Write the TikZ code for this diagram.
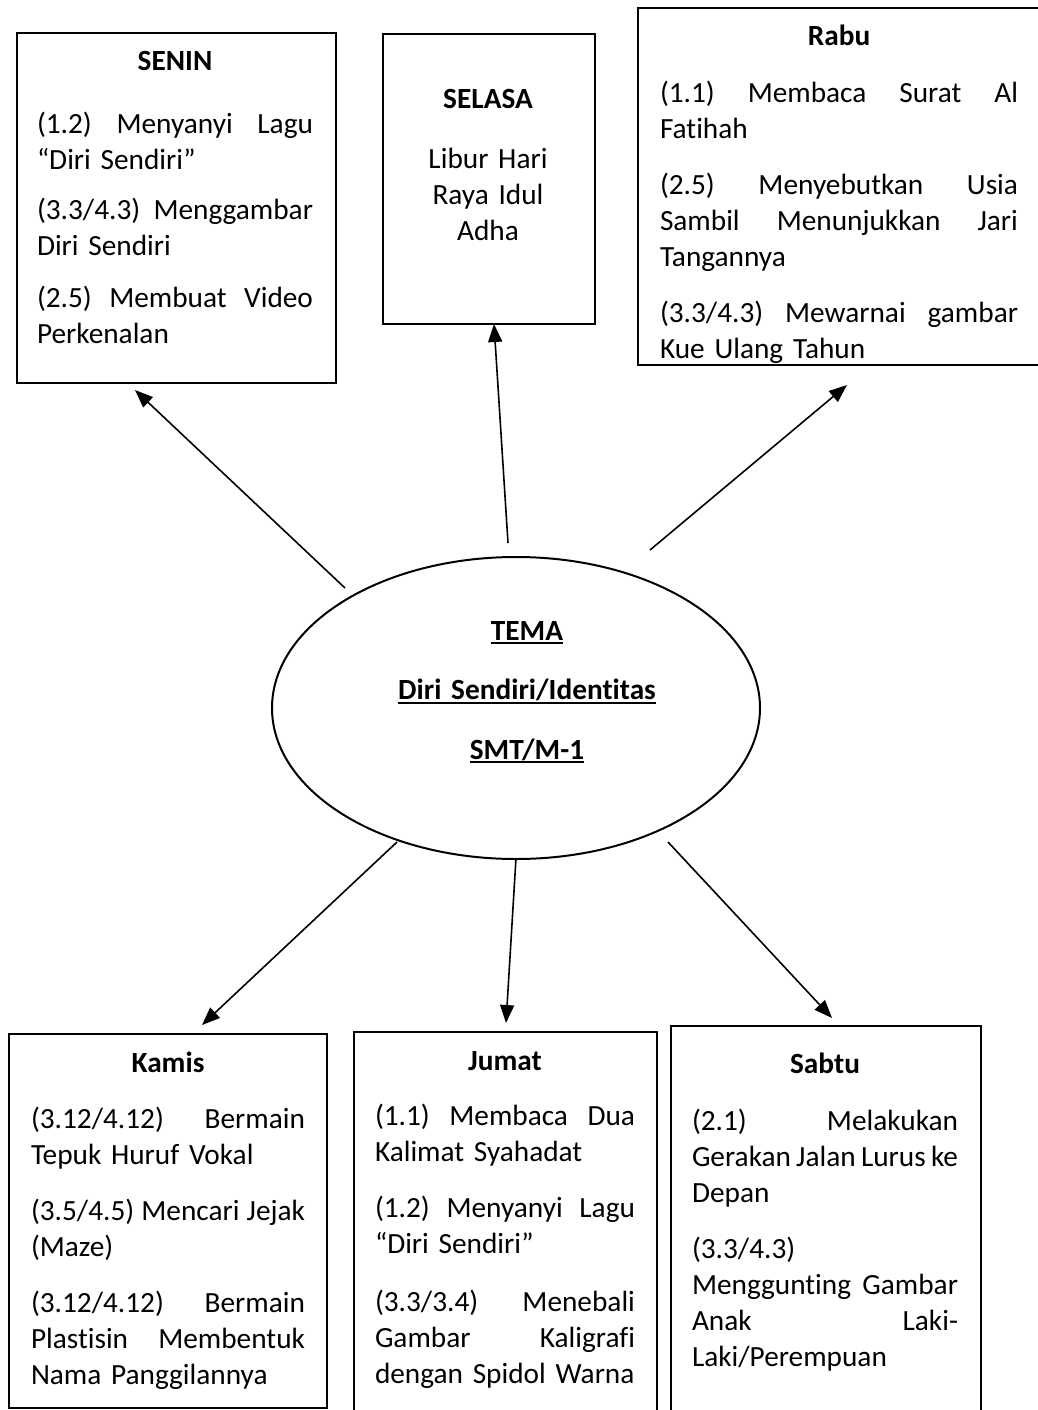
\documentclass[tikz,border=0pt]{standalone}
\usepackage{fontspec}
\setmainfont{Carlito}[Ligatures=NoCommon]
\usetikzlibrary{arrows.meta,shapes.geometric}

% line helpers for the day boxes
\newcommand\dayhead[1]{\makebox[\linewidth][c]{\rule{0pt}{29pt}\bfseries #1}\par}
\newcommand\justline[1]{\hbox to \linewidth{#1}}
\newcommand\plainline[1]{\hbox to \linewidth{#1\hfil}}
\newcommand\centline[1]{\hbox to \linewidth{\hfil #1\hfil}}
\newcommand\paragap[1]{\vspace{#1pt}}
\newcommand\ulbar[1]{\setbox0=\hbox{#1}\rlap{\rule[-4pt]{\wd0}{2pt}}\box0}

\tikzset{
  daybox/.style={draw, line width=2.4pt, inner sep=0pt, anchor=north west},
  daytext/.style={anchor=north, inner sep=0pt, text width=#1,
    font=\fontsize{29.3}{36}\selectfont},
  link/.style={line width=1.6pt, -{Triangle[length=18pt,width=14pt]}},
}

\begin{document}
\begin{tikzpicture}[x=1pt,y=-1pt]
\useasboundingbox[fill=white] (0,0) rectangle (1038,1410);

% central theme
\node[draw, ellipse, line width=2pt, minimum width=488pt, minimum height=302pt] (tema) at (516,708) {};
\node[anchor=north, inner sep=0pt, text width=340pt,
      font=\fontsize{29.3}{59.5}\selectfont\bfseries] (temaTxt) at (527,611) {%
  \centline{\rule{0pt}{29pt}\ulbar{TEMA}}
  \centline{\ulbar{Diri Sendiri/Identitas}}
  \centline{\ulbar{SMT/M-1}}};

% SENIN
\node[daybox, minimum width=319pt, minimum height=350pt] (senin) at (16,32) {};
\node[daytext=276pt] (seninTxt) at (175,41) {%
  \dayhead{SENIN}\paragap{27}
  \justline{(1.2)\hfill Menyanyi\hfill Lagu}
  \plainline{“Diri Sendiri”}\paragap{14}
  \justline{(3.3/4.3)\hfill Menggambar}
  \plainline{Diri Sendiri}\paragap{16}
  \justline{(2.5)\hfill Membuat\hfill Video}
  \plainline{Perkenalan}};

% SELASA
\node[daybox, minimum width=212pt, minimum height=290pt] (selasa) at (382,33) {};
\node[daytext=180pt] (selasaTxt) at (488,79) {%
  \dayhead{SELASA}\paragap{24}
  \centline{Libur Hari}
  \centline{Raya Idul}
  \centline{Adha}};

% Rabu
\node[daybox, minimum width=413pt, minimum height=357pt] (rabu) at (637,7) {};
\begin{scope}
  \clip (rabu.north west) rectangle ([yshift=1.2pt]rabu.south east);
  \node[daytext=358pt] (rabuTxt) at (839,16) {%
    \dayhead{Rabu}\paragap{21}
    \justline{(1.1)\hfill Membaca\hfill Surat\hfill Al}
    \plainline{Fatihah}\paragap{20}
    \justline{(2.5)\hfill Menyebutkan\hfill Usia}
    \justline{Sambil\hfill Menunjukkan\hfill Jari}
    \plainline{Tangannya}\paragap{20}
    \justline{(3.3/4.3)\hfill Mewarnai\hfill gambar}
    \plainline{Kue Ulang Tahun}};
\end{scope}

% Kamis
\node[daybox, minimum width=318pt, minimum height=374pt] (kamis) at (8,1033) {};
\node[daytext=274pt] (kamisTxt) at (168,1043) {%
  \dayhead{Kamis}\paragap{20}
  \justline{(3.12/4.12)\hfill Bermain}
  \plainline{Tepuk Huruf Vokal}\paragap{20}
  \justline{(3.5/4.5)\hfill Mencari\hfill Jejak}
  \plainline{(Maze)}\paragap{20}
  \justline{(3.12/4.12)\hfill Bermain}
  \justline{Plastisin\hfill Membentuk}
  \plainline{Nama Panggilannya}};

% Jumat
\node[daybox, minimum width=303pt, minimum height=400pt] (jumat) at (353,1031) {};
\node[daytext=260pt] (jumatTxt) at (505,1041) {%
  \dayhead{Jumat}\paragap{19}
  \justline{(1.1)\hfill Membaca\hfill Dua}
  \plainline{Kalimat Syahadat}\paragap{20}
  \justline{(1.2)\hfill Menyanyi\hfill Lagu}
  \plainline{“Diri Sendiri”}\paragap{22}
  \justline{(3.3/3.4)\hfill Menebali}
  \justline{Gambar\hfill Kaligrafi}
  \plainline{dengan Spidol Warna}};

% Sabtu
\node[daybox, minimum width=310pt, minimum height=410pt] (sabtu) at (670,1025) {};
\node[daytext=266pt] (sabtuTxt) at (825,1044) {%
  \dayhead{Sabtu}\paragap{21}
  \justline{(2.1)\hfill Melakukan}
  \justline{Gerakan\hfill Jalan\hfill Lurus\hfill ke}
  \plainline{Depan}\paragap{20}
  \plainline{(3.3/4.3)}
  \justline{Menggunting\hfill Gambar}
  \justline{Anak\hfill Laki-}
  \plainline{Laki/Perempuan}};

% connector ends
\coordinate (fromSenin)  at (345,588);
\coordinate (toSenin)    at (135,390);
\coordinate (fromSelasa) at (508,543);
\coordinate (toSelasa)   at (494,324);
\coordinate (fromRabu)   at (650,550);
\coordinate (toRabu)     at (847,385);
\coordinate (fromKamis)  at (397,842);
\coordinate (toKamis)    at (202,1025);
\coordinate (fromJumat)  at (516,858);
\coordinate (toJumat)    at (506,1023);
\coordinate (fromSabtu)  at (668,842);
\coordinate (toSabtu)    at (832,1018);

\draw[link] (fromSenin)  -- (toSenin);
\draw[link] (fromSelasa) -- (toSelasa);
\draw[link] (fromRabu)   -- (toRabu);
\draw[link] (fromKamis)  -- (toKamis);
\draw[link] (fromJumat)  -- (toJumat);
\draw[link] (fromSabtu)  -- (toSabtu);
\end{tikzpicture}
\end{document}
